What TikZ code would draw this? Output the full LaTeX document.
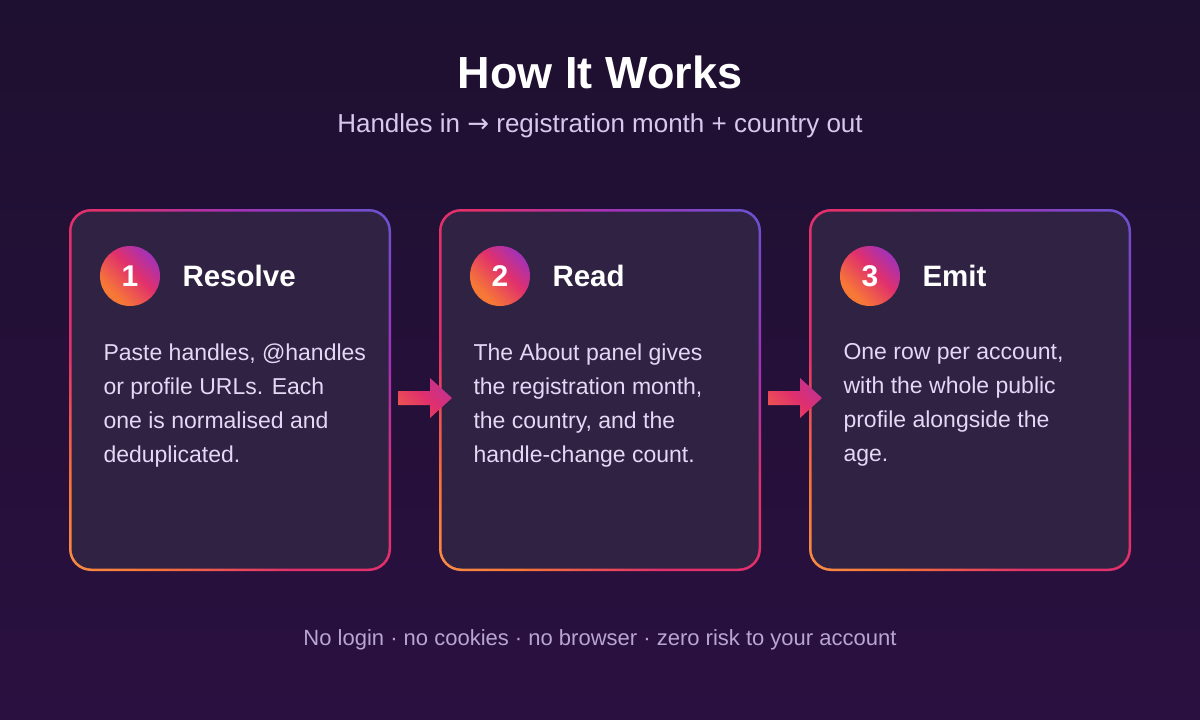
\documentclass[tikz,border=0pt]{standalone}
\usepackage{fontspec}
\setmainfont{Liberation Sans}
\newfontfamily\djv{DejaVu Sans}
\definecolor{bgA}{HTML}{1E1030}
\definecolor{bgB}{HTML}{2A1040}
\definecolor{card}{HTML}{2F2242}
\definecolor{sub}{HTML}{D8C8EE}
\definecolor{body}{HTML}{E4D8F4}
\definecolor{foot}{HTML}{B8A6D0}
\definecolor{cY}{HTML}{FCD26E}
\definecolor{cO}{HTML}{F77737}
\definecolor{cP}{HTML}{E1306C}
\definecolor{cV}{HTML}{A232B8}
\definecolor{cB}{HTML}{5B5BD6}
\pgfdeclarehorizontalshading{ring}{100bp}{color(0bp)=(cY); color(28bp)=(cO); color(40bp)=(cP); color(55bp)=(cP); color(66bp)=(cV); color(82bp)=(cB); color(100bp)=(cB)}
\pgfdeclarehorizontalshading{badge}{100bp}{color(0bp)=(cO); color(30bp)=(cO); color(55bp)=(cP); color(75bp)=(cV); color(100bp)=(cV)}
\pgfdeclarehorizontalshading{arr}{100bp}{color(0bp)=(cO); color(50bp)=(cP); color(100bp)=(cV)}
\tikzset{x=1pt,y=-1pt,
 title/.style={font=\bfseries\fontsize{45}{52}\selectfont,text=white},
 stitle/.style={font=\bfseries\fontsize{29.5}{34}\selectfont,text=white,anchor=west},
 bodyt/.style={font=\fontsize{23}{34}\selectfont,text=body,anchor=north west,align=left},
 num/.style={font=\bfseries\fontsize{30}{34}\selectfont,text=white}}
\newcommand{\cardat}[4]{%
 \begin{scope}
  \clip[rounded corners=22] (#1-1,209) rectangle (#1+321,571);
  \shade[shading=ring,shading angle=45] (#1-40,170) rectangle (#1+360,610);
 \end{scope}
 \fill[card,rounded corners=20] (#1+1.5,211.5) rectangle (#1+318.5,568.5);
 \shade[shading=badge,shading angle=45] (#1+60,276) circle (30);
 \node[num] (n#2) at (#1+60,276) {#2};
 \node[stitle] (t#2) at (#1+109,276) {#3};
 \node[bodyt] (b#2) at (#1+30,340) {#4};
}
\begin{document}
\begin{tikzpicture}
\useasboundingbox (0,0) rectangle (1200,720);
\shade[top color=bgA,bottom color=bgB] (0,0) rectangle (1200,720);
\node[title] (ti) at (600,72) {How It Works};
\node[font=\fontsize{26}{30}\selectfont,text=sub] (st) at (600,126) {Handles in {\djv →} registration month + country out};
\cardat{70}{1}{Resolve}{Paste handles, @handles\\or profile URLs. Each\\one is normalised and\\deduplicated.}
\cardat{440}{2}{Read}{The About panel gives\\the registration month,\\the country, and the\\handle-change count.}
\cardat{810}{3}{Emit}{One row per account,\\with the whole public\\profile alongside the\\age.}
\foreach \x in {398,768}{
 \shade[shading=arr,shading angle=45] (\x,391) -- (\x+32,391) -- (\x+32,378) -- (\x+54,398) -- (\x+32,418) -- (\x+32,405) -- (\x,405) -- cycle;
}
\node[font=\fontsize{22}{26}\selectfont,text=foot] (ft) at (600,640) {No login · no cookies · no browser · zero risk to your account};
\end{tikzpicture}
\end{document}
